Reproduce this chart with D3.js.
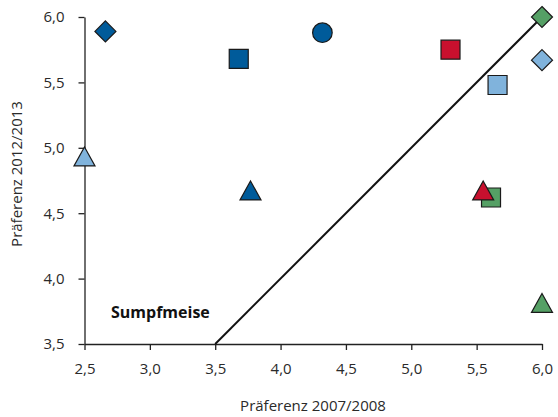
<!DOCTYPE html>
<html>
<head>
<meta charset="utf-8">
<script src="https://cdn.jsdelivr.net/npm/d3@7"></script>
<style>
    body { margin: 0; background: #fff; }
    text { font-family: "Open Sans", "Noto Sans", sans-serif; }
</style>
</head>
<body>
<div id="chart"></div>
<script>
// Werte
const xValues = [2.66, 3.68, 2.5, 3.77, 4.32, 5.30, 6.0, 6.0, 5.66, 5.61, 5.55, 6.0];
const yValues = [5.89, 5.68, 4.93, 4.67, 5.88, 5.75, 6.0, 5.67, 5.48, 4.62, 4.67, 3.81];
const shapes  = ["diamond", "square", "triangle", "triangle", "circle", "square", "diamond", "diamond", "square", "square", "triangle", "triangle"];
const groups  = ["dunkelblau", "dunkelblau", "hellblau", "dunkelblau", "dunkelblau", "rot", "gruen", "hellblau", "hellblau", "gruen", "rot", "gruen"];
const xTicks = [2.5, 3.0, 3.5, 4.0, 4.5, 5.0, 5.5, 6.0];
const yTicks = [3.5, 4.0, 4.5, 5.0, 5.5, 6.0];

const colors = {
    dunkelblau: "#005b9a",
    hellblau: "#80b3dc",
    rot: "#c8102e",
    gruen: "#55a065"
};

const width = 558, height = 417;
const margin = {top: 17, right: 16, bottom: 73, left: 84.5};

const svg = d3.select("#chart")
    .append("svg")
    .attr("width", width)
    .attr("height", height);

const x = d3.scaleLinear().domain([2.5, 6.0]).range([margin.left, width - margin.right]);
const y = d3.scaleLinear().domain([3.5, 6.0]).range([height - margin.bottom, margin.top]);

const fmt = d => d.toFixed(1).replace(".", ",");

// Achsen
const xAxis = svg.append("g")
    .attr("transform", `translate(0,${y(3.5)})`)
    .call(d3.axisBottom(x).tickValues(xTicks).tickFormat(fmt).tickSize(6).tickSizeOuter(0).tickPadding(13));
const yAxis = svg.append("g")
    .attr("transform", `translate(${x(2.5)},0)`)
    .call(d3.axisLeft(y).tickValues(yTicks).tickFormat(fmt).tickSize(6).tickSizeOuter(0).tickPadding(14));

[xAxis, yAxis].forEach(a => {
    a.select(".domain").attr("stroke", "#222").attr("stroke-width", 1.3);
    a.selectAll(".tick line").attr("stroke", "#222").attr("stroke-width", 1.3);
    a.selectAll(".tick text")
        .attr("fill", "#2a2a2a")
        .style("font-size", "15px")
        .style("font-family", "'Open Sans', 'Noto Sans', sans-serif");
});

// Achsentitel
svg.append("text")
    .attr("x", 313)
    .attr("y", 411)
    .attr("text-anchor", "middle")
    .attr("fill", "#2a2a2a")
    .style("font-size", "15px")
    .text("Präferenz 2007/2008");

svg.append("text")
    .attr("transform", "translate(22,174) rotate(-90)")
    .attr("text-anchor", "middle")
    .attr("fill", "#2a2a2a")
    .style("font-size", "15px")
    .text("Präferenz 2012/2013");

// Diagonale y = x
svg.append("line")
    .attr("x1", x(3.5)).attr("y1", y(3.5))
    .attr("x2", x(6.0)).attr("y2", y(6.0))
    .attr("stroke", "#111")
    .attr("stroke-width", 2);

svg.append("text")
    .attr("x", 111)
    .attr("y", 318)
    .attr("fill", "#111")
    .style("font-size", "16px")
    .style("font-weight", "bold")
    .text("Sumpfmeise");

// Markerformen (Mittelpunkt = Mitte der Box)
function markerPath(shape) {
    if (shape === "square") return "M-9.5,-9.5H9.5V9.5H-9.5Z";
    if (shape === "diamond") return "M0,-10.5L10.5,0L0,10.5L-10.5,0Z";
    if (shape === "triangle") return "M0,-10L10.5,9L-10.5,9Z";
    return d3.symbol(d3.symbolCircle, Math.PI * 9.8 * 9.8)();
}

const points = xValues.map((v, i) => ({x: v, y: yValues[i], shape: shapes[i], group: groups[i]}));

svg.append("g")
    .selectAll("path")
    .data(points)
    .enter()
    .append("path")
    .attr("d", d => markerPath(d.shape))
    .attr("transform", d => `translate(${x(d.x)},${y(d.y)})`)
    .attr("fill", d => colors[d.group])
    .attr("stroke", "#1a1a1a")
    .attr("stroke-width", 1.2);
</script>
</body>
</html>
